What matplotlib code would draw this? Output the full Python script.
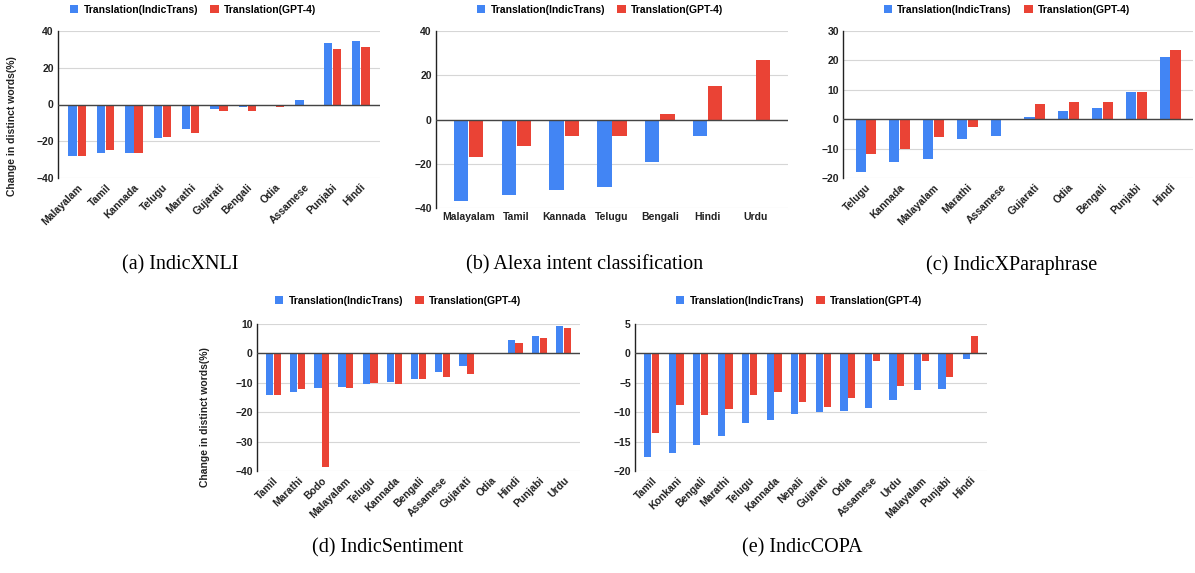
import numpy as np
import matplotlib
matplotlib.use('Agg')
import matplotlib.pyplot as plt

# 数据
xnli_langs = ['Malayalam', 'Tamil', 'Kannada', 'Telugu', 'Marathi', 'Gujarati', 'Bengali', 'Odia', 'Assamese', 'Punjabi', 'Hindi']
xnli_it = [-28.2, -26.2, -26.2, -18.4, -13.6, -2.7, -1.6, -0.7, 2.2, 33.6, 34.7]
xnli_gpt = [-27.8, -24.9, -26.2, -17.6, -15.3, -3.3, -3.3, -1.1, 0.0, 30.4, 31.3]

alexa_langs = ['Malayalam', 'Tamil', 'Kannada', 'Telugu', 'Bengali', 'Hindi', 'Urdu']
alexa_it = [-37.0, -34.2, -31.8, -30.3, -19.2, -7.4, -0.8]
alexa_gpt = [-17.1, -12.1, -7.4, -7.3, 2.6, 15.3, 27.1]

para_langs = ['Telugu', 'Kannada', 'Malayalam', 'Marathi', 'Assamese', 'Gujarati', 'Odia', 'Bengali', 'Punjabi', 'Hindi']
para_it = [-18.1, -14.7, -13.5, -6.6, -5.6, 0.9, 2.7, 3.9, 9.1, 21.3]
para_gpt = [-11.9, -10.1, -6.0, -2.8, -0.1, 5.2, 5.7, 5.7, 9.3, 23.4]

sent_langs = ['Tamil', 'Marathi', 'Bodo', 'Malayalam', 'Telugu', 'Kannada', 'Bengali', 'Assamese', 'Gujarati', 'Odia', 'Hindi', 'Punjabi', 'Urdu']
sent_it = [-14.2, -13.2, -11.8, -11.5, -10.4, -9.6, -8.6, -6.4, -4.4, 0.2, 4.5, 6.0, 9.2]
sent_gpt = [-14.0, -12.2, -38.5, -11.8, -10.1, -10.4, -8.8, -7.9, -7.1, 0.1, 3.5, 5.2, 8.8]

copa_langs = ['Tamil', 'Konkani', 'Bengali', 'Marathi', 'Telugu', 'Kannada', 'Nepali', 'Gujarati', 'Odia', 'Assamese', 'Urdu', 'Malayalam', 'Punjabi', 'Hindi']
copa_it = [-17.6, -17.0, -15.6, -14.0, -11.8, -11.4, -10.3, -10.0, -9.8, -9.3, -8.0, -6.3, -6.0, -0.9]
copa_gpt = [-13.6, -8.7, -10.5, -9.5, -7.1, -6.5, -8.2, -9.2, -7.6, -1.3, -5.6, -1.3, -4.0, 2.9]

series_names = ['Translation(IndicTrans)', 'Translation(GPT-4)']
blue = '#4285F4'
red = '#EA4335'

plt.rcParams['font.family'] = ['Liberation Sans', 'DejaVu Sans']

W, H = 1195, 573
fig = plt.figure(figsize=(W / 100, H / 100), dpi=100)


def px_axes(l, r, t, b):
    # 用像素位置放子图
    return fig.add_axes([l / W, 1 - b / H, (r - l) / W, (b - t) / H])


def draw(ax, langs, v1, v2, ylim, step, rot, leg_xy, caption, cap_xy):
    n = len(langs)
    x = np.arange(n)
    w = 0.3
    ax.bar(x - w / 2 - 0.01, v1, w, color=blue, zorder=3, label=series_names[0])
    ax.bar(x + w / 2 + 0.01, v2, w, color=red, zorder=3, label=series_names[1])
    ax.set_xlim(-0.68, n - 0.32)
    ax.set_ylim(*ylim)
    ax.set_yticks(np.arange(ylim[0], ylim[1] + 0.1, step))
    ax.yaxis.grid(True, color='#d6d6d6', linewidth=0.8, zorder=0)
    ax.axhline(0, color='#444444', linewidth=1.0, zorder=4)
    for s in ['top', 'right', 'bottom']:
        ax.spines[s].set_visible(False)
    ax.spines['left'].set_color('#222222')
    ax.spines['left'].set_linewidth(1.0)
    ax.tick_params(axis='both', length=0, pad=3)
    ax.set_xticks(x)
    if rot:
        ax.set_xticklabels(langs, rotation=45, ha='right', rotation_mode='anchor', fontsize=7.5, fontweight='bold', color='#222222')
    else:
        ax.set_xticklabels(langs, fontsize=7.5, fontweight='bold', color='#222222')
    for lab in ax.get_yticklabels():
        lab.set_fontsize(7.5)
        lab.set_fontweight('bold')
        lab.set_color('#222222')
    ax.legend(loc='center', bbox_to_anchor=(leg_xy[0] / W, 1 - leg_xy[1] / H), bbox_transform=fig.transFigure,
              ncol=2, frameon=False, handlelength=0.8, handleheight=0.8, handletextpad=0.5, columnspacing=1.2,
              prop={'size': 7.5, 'weight': 'bold'})
    fig.text(cap_xy[0] / W, 1 - cap_xy[1] / H, caption, ha='center', va='center', fontsize=14.5, family='Liberation Serif')


ax1 = px_axes(58, 380, 31, 178)
draw(ax1, xnli_langs, xnli_it, xnli_gpt, (-40, 40), 20, True, (193, 10), '(a) IndicXNLI', (180, 265))
fig.text(12 / W, 1 - 126 / H, 'Change in distinct words(%)', rotation=90, ha='center', va='center', fontsize=7.5, fontweight='bold', color='#222222')

ax2 = px_axes(436, 788, 31, 208)
draw(ax2, alexa_langs, alexa_it, alexa_gpt, (-40, 40), 20, False, (600, 10), '(b) Alexa intent classification', (585, 265))

ax3 = px_axes(843, 1193, 31, 178)
draw(ax3, para_langs, para_it, para_gpt, (-20, 30), 10, True, (1007, 10), '(c) IndicXParaphrase', (1012, 265))

ax4 = px_axes(257, 580, 324, 471)
draw(ax4, sent_langs, sent_it, sent_gpt, (-40, 10), 10, True, (398, 301), '(d) IndicSentiment', (388, 548))
fig.text(205 / W, 1 - 417 / H, 'Change in distinct words(%)', rotation=90, ha='center', va='center', fontsize=7.5, fontweight='bold', color='#222222')

ax5 = px_axes(635, 987, 324, 471)
draw(ax5, copa_langs, copa_it, copa_gpt, (-20, 5), 5, True, (799, 301), '(e) IndicCOPA', (802, 548))

fig.savefig('out.png', dpi=100)
